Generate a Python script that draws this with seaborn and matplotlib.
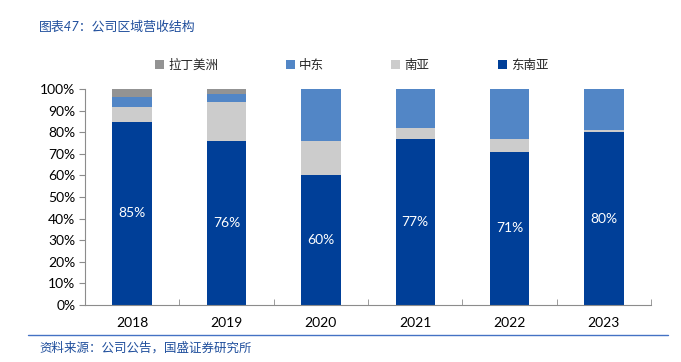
import pandas as pd
import seaborn as sns
import matplotlib.pyplot as plt
from matplotlib.patches import Patch
from matplotlib.ticker import PercentFormatter, FixedLocator

# Data (share of revenue by region, %)
years = ['2018', '2019', '2020', '2021', '2022', '2023']
southeast_asia = [85, 76, 60, 77, 71, 80]
south_asia = [7, 18, 16, 5, 6, 1]
middle_east = [4.5, 4, 24, 18, 23, 19]
latin_america = [3.5, 2, 0, 0, 0, 0]

regions = ['拉丁美洲', '中东', '南亚', '东南亚']
colors = {'拉丁美洲': '#939393', '中东': '#5286C6', '南亚': '#CCCCCC', '东南亚': '#003F98'}

df = pd.DataFrame({
    'year': years,
    '东南亚': southeast_asia,
    '南亚': south_asia,
    '中东': middle_east,
    '拉丁美洲': latin_america,
})

# cumulative tops for stacking
df['c_sea'] = df['东南亚']
df['c_sa'] = df['c_sea'] + df['南亚']
df['c_me'] = df['c_sa'] + df['中东']
df['c_la'] = df['c_me'] + df['拉丁美洲']

sns.set_style("white")
plt.rcParams['font.family'] = ['Lato', 'Noto Sans CJK SC', 'DejaVu Sans']

fig = plt.figure(figsize=(6.81, 3.62), dpi=100)
ax = fig.add_axes([0.1248, 0.1588, 0.8312, 0.594])

bw = 0.417
for col, name in [('c_la', '拉丁美洲'), ('c_me', '中东'), ('c_sa', '南亚'), ('c_sea', '东南亚')]:
    sns.barplot(data=df, x='year', y=col, color=colors[name], width=bw,
                saturation=1, ax=ax, linewidth=0)

for i, v in enumerate(southeast_asia):
    ax.text(i, v / 2, f'{v}%', ha='center', va='center', color='white', fontsize=10)

ax.set_ylim(0, 100)
ax.set_xlim(-0.5, len(years) - 0.5)
ax.set_yticks(range(0, 101, 10))
ax.yaxis.set_major_formatter(PercentFormatter(decimals=0))
ax.set_xlabel('')
ax.set_ylabel('')

for s in ['top', 'right']:
    ax.spines[s].set_visible(False)
for s in ['left', 'bottom']:
    ax.spines[s].set_color('#8C8C8C')
    ax.spines[s].set_linewidth(0.8)

ax.tick_params(axis='y', which='major', left=True, direction='out', length=4,
               color='#8C8C8C', labelsize=10, pad=3, labelcolor='black')
ax.tick_params(axis='x', which='major', length=0, labelsize=10, pad=9, labelcolor='black')
ax.xaxis.set_minor_locator(FixedLocator([i - 0.5 for i in range(len(years) + 1)]))
ax.tick_params(axis='x', which='minor', bottom=True, direction='in', length=4, color='#8C8C8C')

# legend entries placed one by one along the top
legend_x = [155, 286, 391, 498]
for name, lx in zip(regions, legend_x):
    fig.legend([Patch(facecolor=colors[name], edgecolor='none')], [name],
               loc='center left', bbox_to_anchor=(lx / 681, 1 - 65 / 362),
               frameon=False, fontsize=9, handlelength=0.7, handleheight=0.7,
               handletextpad=0.35, borderpad=0, borderaxespad=0)

fig.text(39 / 681, 1 - 27 / 362, '图表47：公司区域营收结构', color='#1F4E9C', fontsize=9.3,
         style='italic', va='center', ha='left')
fig.text(39 / 681, 1 - 347 / 362, '资料来源：公司公告，国盛证券研究所', color='#1F4E9C', fontsize=9,
         style='italic', va='center', ha='left')
fig.add_artist(plt.Line2D([28 / 681, 668 / 681], [1 - 335 / 362, 1 - 335 / 362],
                          color='#4472C4', linewidth=1))

fig.savefig('out.png', dpi=100)
